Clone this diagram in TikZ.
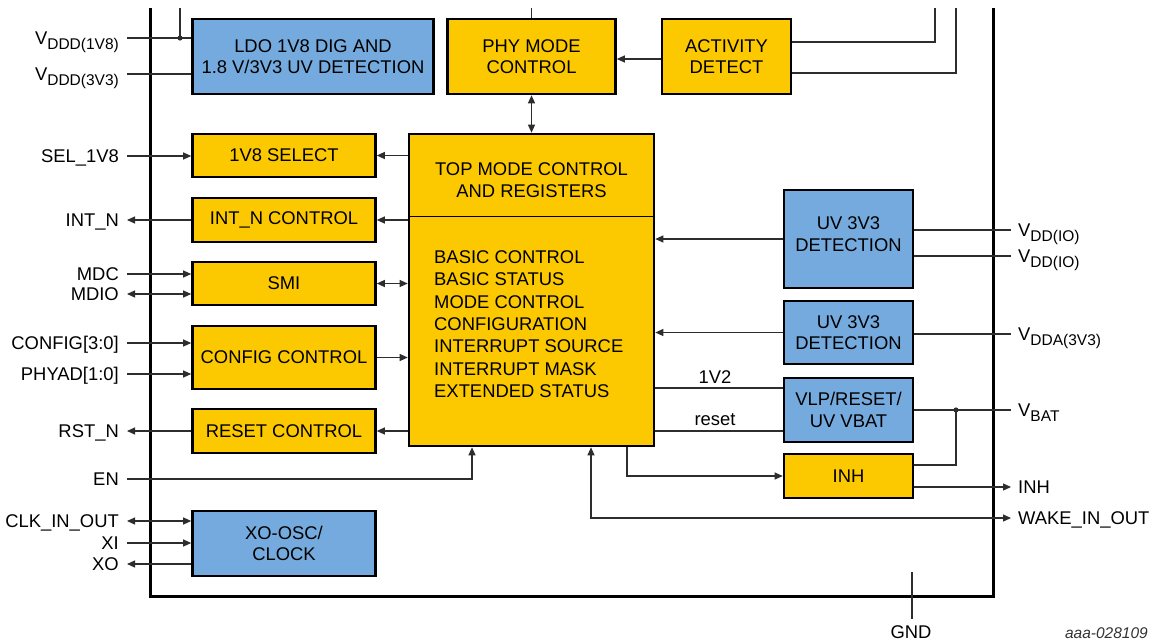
\documentclass[tikz,border=0pt]{standalone}
\usepackage{fontspec}
\setmainfont{Liberation Sans}
\usetikzlibrary{arrows.meta,calc}
\definecolor{boxyellow}{RGB}{252,201,0}
\definecolor{boxblue}{RGB}{116,170,221}
\definecolor{wirecol}{RGB}{45,45,45}
% lowered, smaller subscript for supply pin names
\newcommand{\sbs}[1]{\raisebox{-5pt}{\fontsize{15.5}{15.5}\selectfont #1}}

\begin{document}
\begin{tikzpicture}[x=1pt,y=-1pt,
  font=\fontsize{18.4}{21.5}\selectfont,
  >={Triangle[length=8pt,width=7pt]},
  blk/.style={draw=black, line width=2.6pt, inner sep=0pt, align=center},
  yblk/.style={blk, fill=boxyellow},
  bblk/.style={blk, fill=boxblue},
  wire/.style={draw=wirecol, line width=1.1pt},
  lbl/.style={anchor=east, inner sep=0pt, text height=13.2pt, text depth=0pt},
  rlbl/.style={anchor=west, inner sep=0pt, text height=13.2pt, text depth=0pt},
  regline/.style={anchor=base west, inner sep=0pt},
]
\useasboundingbox (0,0) rectangle (1155,640);

% outer device outline (open at the top)
\draw[line width=3pt, line join=miter] (150,8) -- (150,596) -- (993,596) -- (993,8);

% ---------------- blocks ----------------
\node[bblk, minimum width=241pt, minimum height=75pt] (ldo) at (313,56.5) {LDO 1V8 DIG AND\\1.8 V/3V3 UV DETECTION};
\node[yblk, minimum width=168pt, minimum height=75pt] (phy) at (531.5,56.5) {PHY MODE\\CONTROL};
\node[yblk, minimum width=129pt, minimum height=75pt] (act) at (726.5,56.5) {ACTIVITY\\DETECT};

\node[yblk, minimum width=183pt, minimum height=43pt] (sel)  at (284,155.5) {1V8 SELECT};
\node[yblk, minimum width=183pt, minimum height=44pt] (intn) at (284,220)   {INT\_N CONTROL};
\node[yblk, minimum width=183pt, minimum height=43pt] (smi)  at (284,283.5) {SMI};
\node[yblk, minimum width=183pt, minimum height=63pt] (cfg)  at (284,357.5) {CONFIG CONTROL};
\node[yblk, minimum width=183pt, minimum height=44pt] (rstc) at (284,431)   {RESET CONTROL};
\node[bblk, minimum width=183pt, minimum height=65pt] (xo)   at (284,543.5) {XO-OSC/\\CLOCK};

\node[yblk, minimum width=245pt, minimum height=312pt] (top) at (531.5,290) {};
\draw[line width=1.1pt] ($(top.north west)+(0,84)$) -- ($(top.north east)+(0,84)$);
\node[align=center] (ttl) at (531.5,180) {TOP MODE CONTROL\\AND REGISTERS};
\foreach \t [count=\i] in {BASIC CONTROL, BASIC STATUS, MODE CONTROL, CONFIGURATION,
                           INTERRUPT SOURCE, INTERRUPT MASK, EXTENDED STATUS}
  \node[regline] (reg\i) at (434,263.6+22.3*\i-22.3) {\t};

\node[bblk, minimum width=129pt, minimum height=98pt] (uv1) at (848.5,239) {};
\node[align=center] (uv1t) at (848.5,234) {UV 3V3\\DETECTION};
\node[bblk, minimum width=129pt, minimum height=63pt] (uv2) at (848.5,332.5) {UV 3V3\\DETECTION};
\node[bblk, minimum width=129pt, minimum height=64pt] (vlp) at (848.5,410) {VLP/RESET/\\UV VBAT};
\node[yblk, minimum width=129pt, minimum height=44pt] (inh) at (848.5,476) {INH};

% ---------------- left pins ----------------
\foreach \n/\y/\t in {V18/38/V\sbs{DDD(1V8)}, V33/74/V\sbs{DDD(3V3)}, SEL/156/SEL\_1V8,
                      INT/220/INT\_N, MDC/274/MDC, MDIO/294/MDIO, CFG/343/CONFIG[3:0],
                      PHYAD/374/PHYAD[1:0], RST/431/RST\_N, EN/479/EN,
                      CLK/521/CLK\_IN\_OUT, XI/543/XI, XO/564/XO}{
  \coordinate (p\n) at (127,\y);
  \node[lbl] (n\n) at (119,\y) {\t};
}
\draw[wire] (pV18) -- (ldo.west |- pV18);
\draw[wire] (pV33) -- (ldo.west |- pV33);
\coordinate (tV18) at (180,8);
\coordinate (jV18) at (180,38);
\draw[wire] (tV18) -- (jV18);
\fill[wirecol] (jV18) circle (2.6pt);

\draw[wire,->] (pSEL) -- (sel.west |- pSEL);
\draw[wire,<-] (pINT) -- (intn.west |- pINT);
\draw[wire,->] (pMDC) -- (smi.west |- pMDC);
\draw[wire,<->] (pMDIO) -- (smi.west |- pMDIO);
\draw[wire,->] (pCFG) -- (cfg.west |- pCFG);
\draw[wire,->] (pPHYAD) -- (cfg.west |- pPHYAD);
\draw[wire,<-] (pRST) -- (rstc.west |- pRST);
\draw[wire,->] (pEN) -| ([xshift=-59.5pt]top.south);
\draw[wire,<->] (pCLK) -- (xo.west |- pCLK);
\draw[wire,->] (pXI) -- (xo.west |- pXI);
\draw[wire,<-] (pXO) -- (xo.west |- pXO);

% ---------------- register block to left column ----------------
\draw[wire,->] (top.west |- sel.east) -- (sel.east);
\draw[wire,->] (top.west |- intn.east) -- (intn.east);
\draw[wire,<->] (top.west |- smi.east) -- (smi.east);
\draw[wire,->] (cfg.east) -- (top.west |- cfg.east);
\draw[wire,->] (top.west |- rstc.east) -- (rstc.east);

% ---------------- top row ----------------
\coordinate (tPHY) at (531.5,8);
\draw[wire] (tPHY) -- (phy.north);
\draw[wire,<->] (phy.south) -- (top.north);
\draw[wire,->] ([yshift=-2.5pt]act.west) -- ([yshift=-2.5pt]phy.east);
\coordinate (tA1) at (935,8);
\coordinate (tA2) at (956,8);
\draw[wire] (tA1) |- ([yshift=14.5pt]act.east);
\draw[wire] (tA2) |- ([yshift=-16.5pt]act.east);

% ---------------- right side ----------------
\draw[wire,->] (uv1.west) -- (top.east |- uv1.west);
\draw[wire,->] (uv2.west) -- (top.east |- uv2.west);
\coordinate (v12) at ([yshift=22pt]vlp.west);
\coordinate (vrs) at ([yshift=-21pt]vlp.west);
\draw[wire] (v12) -- (top.east |- v12);
\draw[wire] (vrs) -- (top.east |- vrs);
\node[anchor=base] (l12) at (715,383.6) {1V2};
\node[anchor=base] (lrs) at (715,425) {reset};

\foreach \n/\y/\t in {IO1/230/V\sbs{DD(IO)}, IO2/256/V\sbs{DD(IO)}, VDDA/334/V\sbs{DDA(3V3)},
                      VB/410/V\sbs{BAT}, INH/487/INH, WK/518/WAKE\_IN\_OUT}{
  \coordinate (p\n) at (1011,\y);
  \node[rlbl] (n\n) at (1018,\y) {\t};
}
\draw[wire] (uv1.east |- pIO1) -- (pIO1);
\draw[wire] (uv1.east |- pIO2) -- (pIO2);
\draw[wire] (uv2.east |- pVDDA) -- (pVDDA);
\draw[wire] (vlp.east) -- (pVB);
\coordinate (jVB) at (956,410);
\fill[wirecol] (jVB) circle (2.6pt);
\draw[wire] (jVB) |- ([yshift=11pt]inh.east);
\draw[wire,->] ([yshift=-11pt]inh.east) -- (pINH);
\draw[wire,->] ([xshift=95.5pt]top.south) |- (inh.west);
\draw[wire,<->] ([xshift=59.5pt]top.south) |- (pWK);

% ---------------- ground and figure code ----------------
\coordinate (g1) at (912,572);
\coordinate (g2) at (912,619);
\draw[wire] (g1) -- (g2);
\node[anchor=base, inner sep=0pt] (gnd) at (911,638) {GND};
\node[anchor=base east, inner sep=0pt, font=\fontsize{15.5}{15.5}\selectfont\itshape, text=black!80] (code) at (1148,638) {aaa-028109};
\end{tikzpicture}
\end{document}
